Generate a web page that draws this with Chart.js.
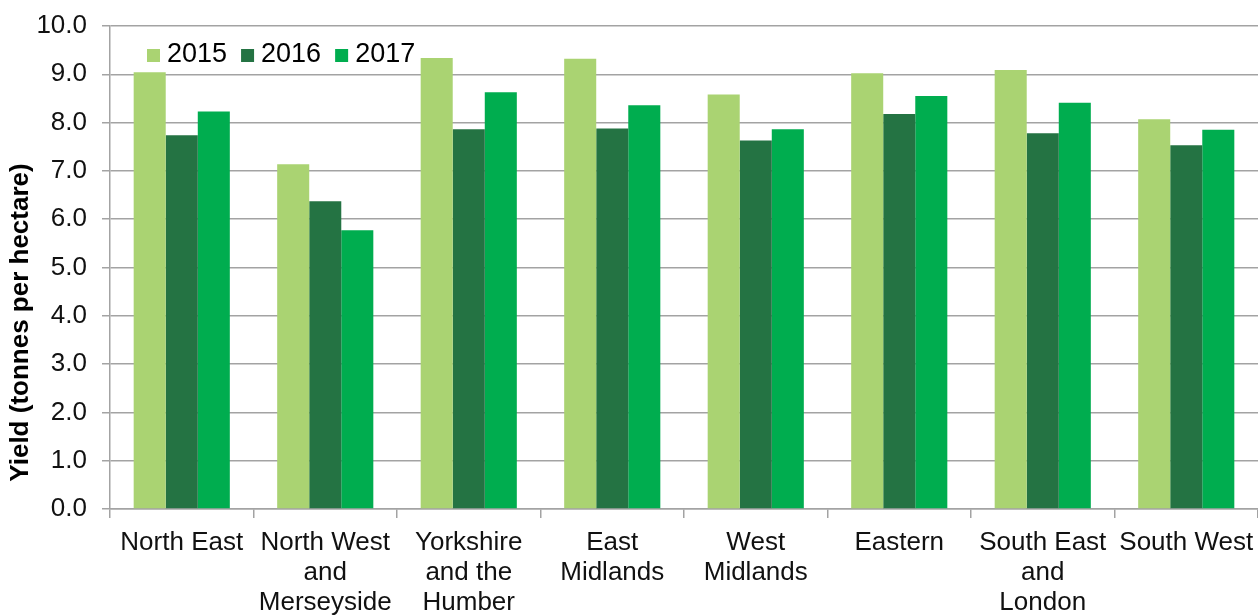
<!DOCTYPE html>
<html>
<head>
<meta charset="utf-8">
<script src="https://cdn.jsdelivr.net/npm/chart.js@4/dist/chart.umd.min.js"></script>
<style>
  html, body { margin: 0; padding: 0; background: #fff; }
  #wrap { width: 1258px; height: 615px; position: relative; }
</style>
</head>
<body>
<div id="wrap"><canvas id="chart"></canvas></div>
<script>
// yield per region
const REGIONS = [
  ['North East'],
  ['North West', 'and', 'Merseyside'],
  ['Yorkshire', 'and the', 'Humber'],
  ['East', 'Midlands'],
  ['West', 'Midlands'],
  ['Eastern'],
  ['South East', 'and', 'London'],
  ['South West']
];
const YEARS = ['2015', '2016', '2017'];
const YIELD_2015 = [9.04, 7.14, 9.34, 9.32, 8.58, 9.02, 9.09, 8.07];
const YIELD_2016 = [7.74, 6.37, 7.86, 7.88, 7.63, 8.18, 7.78, 7.53];
const YIELD_2017 = [8.23, 5.77, 8.63, 8.36, 7.86, 8.55, 8.41, 7.85];
const Y_TITLE = 'Yield (tonnes per hectare)';

const COLORS = ['#aad372', '#247343', '#00ad4f'];
const GRID = '#a3a3a3';
const FONT = '"Liberation Sans", Arial, sans-serif';

// legend drawn inside the plot, top left, like the original
const insideLegend = {
  id: 'insideLegend',
  afterDraw(chart) {
    const { ctx, chartArea } = chart;
    ctx.save();
    ctx.font = '27px ' + FONT;
    ctx.textBaseline = 'middle';
    let x = chartArea.left + 37;
    const y = chartArea.top + 29;
    chart.data.datasets.forEach(ds => {
      ctx.fillStyle = ds.backgroundColor;
      ctx.fillRect(x, y - 6, 13, 13);
      x += 20;
      ctx.fillStyle = '#000';
      ctx.fillText(ds.label, x, y);
      x += ctx.measureText(ds.label).width + 14;
    });
    ctx.restore();
  }
};

// y title sits a bit below centre in the original, so draw it by hand
const yTitle = {
  id: 'yTitle',
  afterDraw(chart) {
    const { ctx, chartArea } = chart;
    ctx.save();
    ctx.translate(21, (chartArea.top + chartArea.bottom) / 2 + 55);
    ctx.rotate(-Math.PI / 2);
    ctx.font = 'bold 26px ' + FONT;
    ctx.fillStyle = '#000';
    ctx.textAlign = 'center';
    ctx.textBaseline = 'middle';
    ctx.fillText(Y_TITLE, 0, 0);
    ctx.restore();
  }
};

const series = [YIELD_2015, YIELD_2016, YIELD_2017];

new Chart(document.getElementById('chart'), {
  type: 'bar',
  data: {
    labels: REGIONS,
    datasets: YEARS.map((yr, i) => ({
      label: yr,
      data: series[i],
      backgroundColor: COLORS[i],
      borderWidth: 0,
      categoryPercentage: 0.67,
      barPercentage: 1.0
    }))
  },
  plugins: [insideLegend, yTitle],
  options: {
    responsive: true,
    maintainAspectRatio: false,
    animation: false,
    layout: { padding: { top: 26, left: 0, right: -5, bottom: 0 } },
    plugins: {
      legend: { display: false },
      tooltip: { enabled: false }
    },
    scales: {
      x: {
        // the last category runs off the right edge in the original
        afterFit: (s) => { s.height = 106; s.paddingLeft = 0; s.paddingRight = 0; },
        grid: { drawOnChartArea: false, tickLength: 9, color: GRID, lineWidth: 1.5, offset: true },
        border: { color: GRID, width: 1.5 },
        ticks: {
          color: '#111',
          padding: 10,
          maxRotation: 0,
          autoSkip: false,
          font: { family: FONT, size: 26, lineHeight: 1.15 }
        }
      },
      y: {
        min: 0,
        max: 10,
        afterFit: (s) => { s.width = 110; s.paddingTop = 0; s.paddingBottom = 0; },
        grid: { color: GRID, lineWidth: 1.5, tickLength: 8 },
        border: { color: GRID, width: 1.5 },
        ticks: {
          stepSize: 1,
          padding: 15,
          color: '#111',
          font: { family: FONT, size: 26 },
          callback: v => Number(v).toFixed(1)
        }
      }
    }
  }
});
</script>
</body>
</html>
